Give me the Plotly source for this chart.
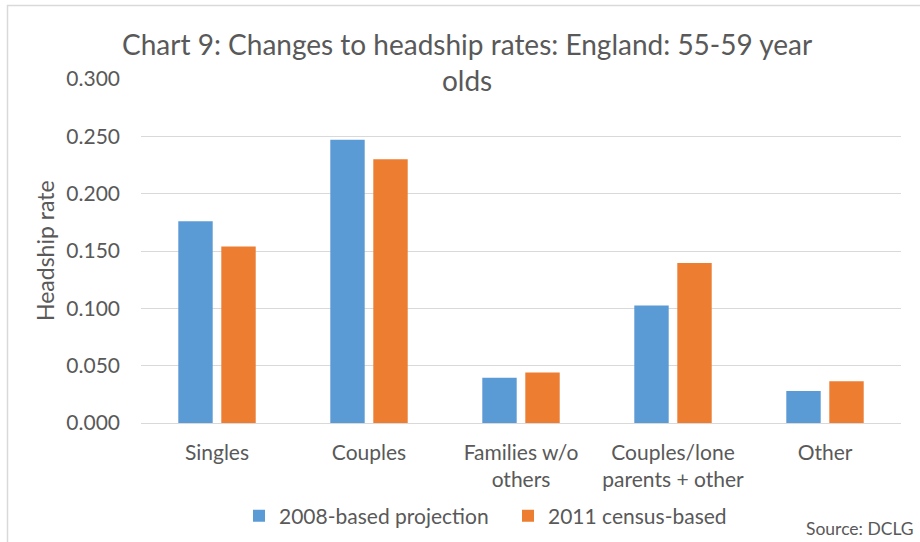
import plotly.graph_objects as go

categories = ["Singles", "Couples", "Families w/o<br>others", "Couples/lone<br>parents + other", "Other"]
series_2008 = [0.176, 0.247, 0.0395, 0.1025, 0.028]
series_2011 = [0.154, 0.230, 0.0440, 0.1395, 0.0365]
y_ticks = [0.0, 0.05, 0.10, 0.15, 0.20, 0.25, 0.30]
y_tick_labels = ["0.000", "0.050", "0.100", "0.150", "0.200", "0.250", "0.300"]

BLUE = "#5B9BD5"
ORANGE = "#ED7D31"
TEXT = "#595959"
GRID = "#D9D9D9"
FONT = "Lato"

W, H = 920, 542
L, R, T, B = 141, 19, 79, 119
pw, ph = W - L - R, H - T - B

def px(x):
    return (x - L) / pw

def py(y):
    return (H - B - y) / ph

fig = go.Figure()
fig.add_trace(go.Bar(name="2008-based projection", x=categories, y=series_2008,
                     marker=dict(color=BLUE, line=dict(width=0))))
fig.add_trace(go.Bar(name="2011 census-based", x=categories, y=series_2011,
                     marker=dict(color=ORANGE, line=dict(width=0))))

fig.update_layout(
    width=W, height=H,
    margin=dict(l=L, r=R, t=T, b=B, autoexpand=False),
    paper_bgcolor="white", plot_bgcolor="white",
    barmode="group", bargap=0.434, bargroupgap=0.2,
    font=dict(family=FONT, color=TEXT, size=21),
    showlegend=True,
    legend=dict(orientation="h", x=px(239), xanchor="left", y=py(516), yanchor="middle",
                font=dict(size=21, color=TEXT), bgcolor="rgba(0,0,0,0)",
                entrywidth=224, entrywidthmode="pixels",
                itemsizing="constant", traceorder="normal"),
    xaxis=dict(showgrid=False, showline=False, zeroline=False, ticks="",
               tickfont=dict(size=21, color=TEXT), ticklabelstandoff=15),
    yaxis=dict(range=[0, 0.3], tickvals=y_ticks, ticktext=y_tick_labels,
               showgrid=True, gridcolor=GRID, gridwidth=1, zeroline=True,
               zerolinecolor=GRID, zerolinewidth=1, showline=False, ticks="",
               tickfont=dict(size=21, color=TEXT), ticklabelstandoff=20),
    annotations=[
        dict(text="Chart 9: Changes to headship rates: England: 55-59 year<br>olds",
             x=px(467), y=py(62), xref="paper", yref="paper", xanchor="center", yanchor="middle",
             showarrow=False, font=dict(size=28, color=TEXT)),
        dict(text="Headship rate", textangle=-90, x=px(45), y=py(251), xref="paper", yref="paper",
             xanchor="center", yanchor="middle", showarrow=False, font=dict(size=23, color=TEXT)),
        dict(text="Source: DCLG", x=px(916), y=py(528), xref="paper", yref="paper",
             xanchor="right", yanchor="middle", showarrow=False, font=dict(size=17.5, color=TEXT)),
    ],
    shapes=[
        dict(type="rect", xref="paper", yref="paper", x0=px(7.5), x1=px(930), y0=py(560), y1=py(5.5),
             line=dict(color=GRID, width=1.5), fillcolor="rgba(0,0,0,0)", layer="below"),
    ],
)

fig.write_html("out.html", config={"displayModeBar": False},
               post_script="document.body.style.margin='0';document.body.style.overflow='hidden';")
